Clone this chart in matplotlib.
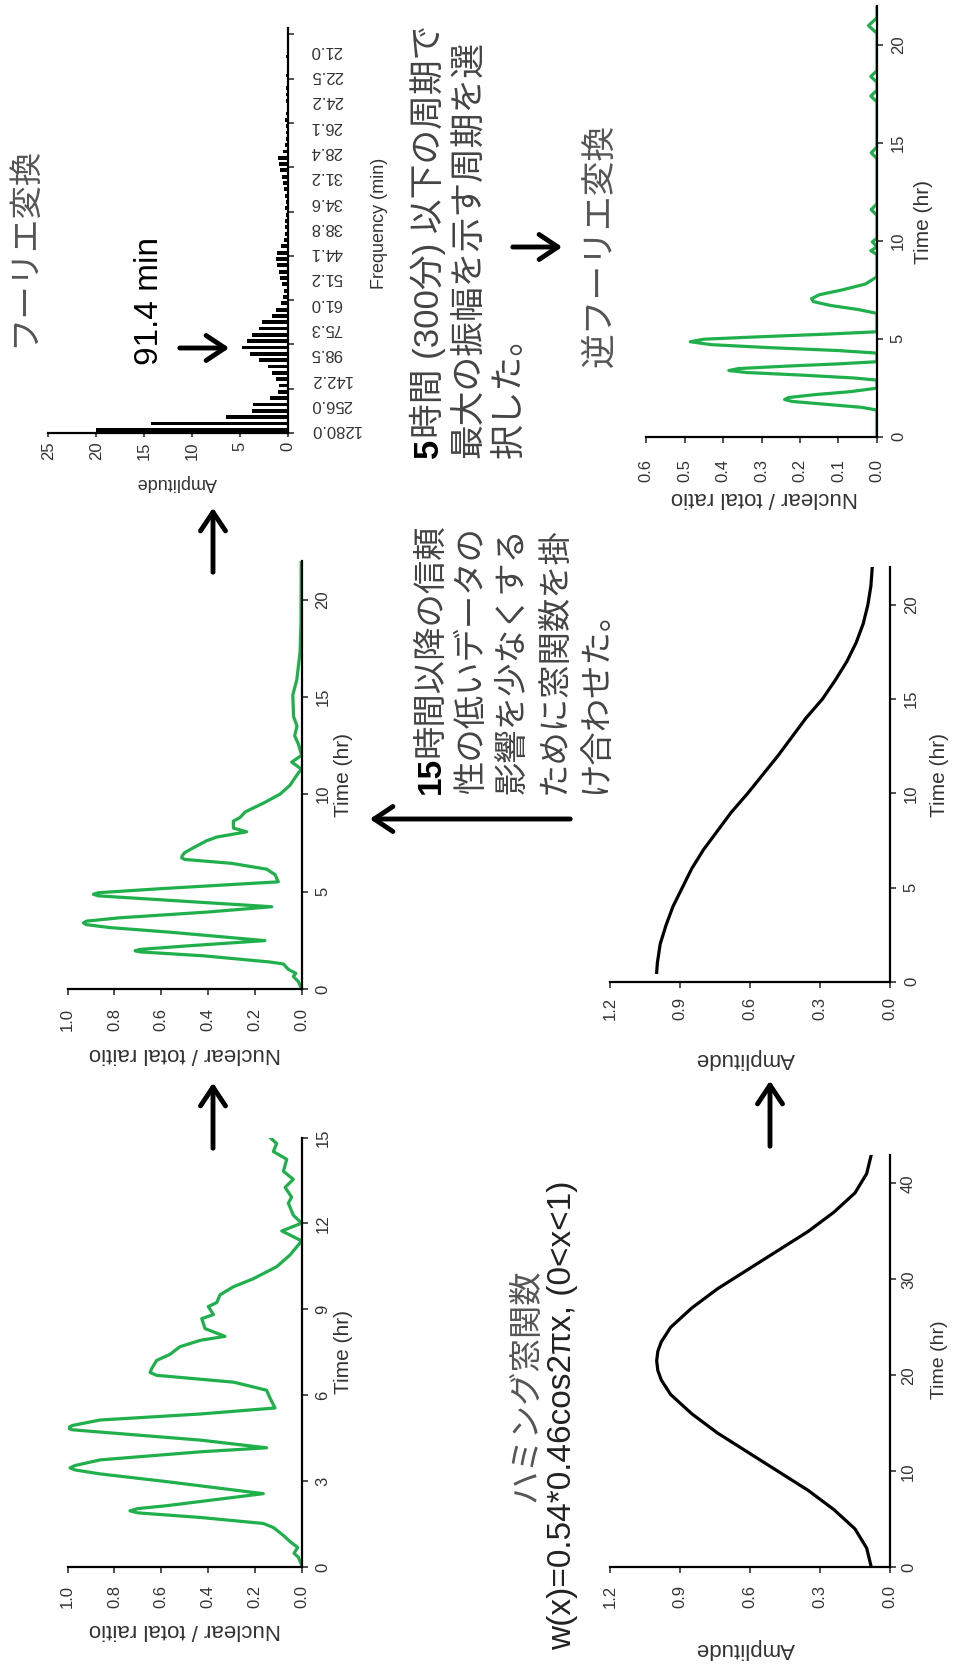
import numpy as np
import matplotlib
matplotlib.use('Agg')
import matplotlib.pyplot as plt
from matplotlib.patches import FancyArrowPatch

W, H = 954, 1664
plt.rcParams['font.family'] = ['Liberation Sans', 'Noto Sans CJK JP', 'DejaVu Sans']
plt.rcParams['text.color'] = '#333333'
plt.rcParams['xtick.color'] = '#333333'
plt.rcParams['ytick.color'] = '#333333'
GREEN = '#1fb04c'

# raw nuclear / total ratio, 0-15 hr
raw_t = [0.07, 0.35, 0.49, 0.69, 0.9, 1.11, 1.39, 1.53, 1.74, 1.9, 1.97, 2.05, 2.15, 2.57, 2.99, 3.26, 3.4, 3.47,
         3.55, 3.75, 4.03, 4.17, 4.44, 4.72, 4.8, 4.86, 4.95, 5.14, 5.35, 5.56, 5.9, 6.18, 6.46, 6.7, 6.8, 6.95,
         7.22, 7.43, 7.7, 7.92, 8.06, 8.33, 8.68, 8.82, 9.1, 9.24, 9.51, 9.79, 10.07, 10.49, 10.9, 11.39,
         11.74, 12.01, 12.29, 12.71, 12.92, 13.26, 13.54, 13.82, 14.24, 14.51, 14.79, 15.0]
raw_v = [0.0, 0.014, 0.033, 0.017, 0.05, 0.078, 0.121, 0.164, 0.434, 0.70, 0.734, 0.70, 0.577, 0.164, 0.577, 0.862,
         0.97, 0.99, 0.97, 0.86, 0.434, 0.15, 0.434, 0.862, 0.98, 1.0, 0.98, 0.862, 0.434, 0.114, 0.135, 0.15, 0.29,
         0.62, 0.648, 0.64, 0.62, 0.563, 0.52, 0.434, 0.328, 0.413, 0.427, 0.377, 0.399, 0.363, 0.349, 0.292,
         0.207, 0.107, 0.05, 0.0, 0.085, 0.0, 0.036, 0.057, 0.043, 0.071, 0.036, 0.078, 0.064, 0.121, 0.107, 0.135]

# windowed ratio, 0-22 hr
win_t = [0, 0.37, 0.64, 0.8, 1.0, 1.28, 1.38, 1.7, 1.9, 1.96, 2.03, 2.2, 2.48, 2.9, 3.15, 3.3, 3.39, 3.48, 3.65,
         3.95, 4.22, 4.5, 4.78, 4.86, 4.94, 5.15, 5.5, 5.87, 6.15, 6.45, 6.65, 6.73, 6.85, 7.0, 7.25, 7.61, 7.8,
         8.07, 8.26, 8.62, 8.8, 9.08, 9.17, 9.54, 10.0, 10.46, 11.1, 11.28, 11.65, 12.0, 12.57, 13.0, 13.5,
         14.0, 14.4, 15.1, 15.87, 17.3, 18.8, 22.0]
win_v = [0, 0.014, 0.036, 0.025, 0.057, 0.078, 0.135, 0.42, 0.69, 0.712, 0.69, 0.5, 0.157, 0.55, 0.82, 0.92,
         0.933, 0.92, 0.78, 0.4, 0.128, 0.5, 0.87, 0.89, 0.87, 0.6, 0.10, 0.114, 0.15, 0.3, 0.5, 0.513, 0.51,
         0.5, 0.463, 0.406, 0.363, 0.235, 0.292, 0.292, 0.264, 0.242, 0.228, 0.164, 0.093, 0.05, 0.014, 0.0,
         0.043, 0.0, 0.014, 0.03, 0.02, 0.035, 0.036, 0.038, 0.021, 0.007, 0.003, 0.002]

# hamming window, full 0-43 hr
ham_t = [0, 2, 4, 6, 8, 10, 12, 14, 16, 18, 19.5, 20.5, 21.5, 22.5, 23.5, 25, 27, 29, 31, 33, 35, 37, 39, 41, 43]
ham_v = [0.08, 0.10, 0.15, 0.24, 0.35, 0.48, 0.61, 0.74, 0.85, 0.94, 0.98, 0.995, 1.0, 0.995, 0.98, 0.94,
         0.85, 0.74, 0.61, 0.48, 0.35, 0.24, 0.15, 0.10, 0.08]

# hamming window, second half 0-22 hr
half_t = [0.5, 1, 2, 3, 4, 5, 6, 7, 8, 9, 10, 11, 12, 13, 14, 15, 16, 17, 18, 19, 20, 21, 22]
half_v = [1.0, 0.997, 0.985, 0.96, 0.93, 0.89, 0.85, 0.80, 0.74, 0.68, 0.61, 0.545, 0.48, 0.42, 0.36, 0.29,
          0.235, 0.185, 0.145, 0.115, 0.095, 0.082, 0.076]

# fourier amplitudes, period = 1280/(j+1) min
period_labels = ['1280.0', '256.0', '142.2', '98.5', '75.3', '61.0', '51.2', '44.1',
                 '38.8', '34.6', '31.2', '28.4', '26.1', '24.2', '22.5', '21.0']
fft_amp = [20.0, 14.3, 6.5, 3.8, 3.6, 1.9, 1.0, 0.9, 1.2, 1.7, 2.1, 3.0, 4.0, 4.8, 4.3, 3.8,
           3.0, 2.7, 1.7, 1.2, 0.7, 0.5, 0.4, 0.6, 0.8, 0.9, 1.1, 1.3, 1.1, 0.7, 0.4, 0.3,
           0.35, 0.3, 0.2, 0.3, 0.25, 0.3, 0.4, 0.5, 0.6, 0.8, 0.9, 1.0, 0.5, 0.3, 0.2, 0.25,
           0.2, 0.3, 0.2, 0.15, 0.2, 0.25, 0.2, 0.15, 0.2, 0.15, 0.1, 0.2, 0.15, 0.1, 0.15, 0.1]

# inverse fourier transform, 0-22 hr
inv_t = [0, 1.36, 1.5, 1.65, 1.8, 1.9, 2.0, 2.15, 2.3, 2.48, 2.89, 3.0, 3.15, 3.28, 3.38, 3.48, 3.6, 3.72, 3.83,
         4.27, 4.4, 4.55, 4.7, 4.85, 4.98, 5.1, 5.24, 5.36, 6.3, 6.5, 6.7, 6.9, 7.05, 7.25, 7.5, 7.8, 8.17,
         9.3, 9.5, 9.7, 9.95, 10.15, 11.3, 11.6, 11.9, 14.2, 14.5, 14.8, 17.1, 17.4, 17.7, 18.1, 18.4, 18.7,
         20.6, 21.0, 21.4, 22.0]
inv_v = [0, 0, 0.04, 0.13, 0.22, 0.24, 0.23, 0.16, 0.07, 0, 0, 0.06, 0.2, 0.34, 0.385, 0.36, 0.24, 0.1, 0,
         0, 0.1, 0.28, 0.43, 0.485, 0.45, 0.31, 0.13, 0, 0, 0.05, 0.12, 0.165, 0.17, 0.15, 0.09, 0.03, 0,
         0, 0.016, 0, 0.012, 0, 0, 0.015, 0, 0, 0.015, 0, 0, 0.016, 0, 0, 0.016, 0,
         0, 0.022, 0, 0]

fig = plt.figure(figsize=(W / 100, H / 100), dpi=100)


def px(x, y):
    return x / W, 1 - y / H


def make_axes(left, top, right, bottom):
    ax = fig.add_axes([left / W, 1 - bottom / H, (right - left) / W, (bottom - top) / H])
    ax.patch.set_alpha(0)
    ax.spines['top'].set_visible(False)
    ax.spines['left'].set_visible(False)
    ax.spines['bottom'].set_linewidth(1.6)
    ax.spines['right'].set_linewidth(1.6)
    ax.yaxis.tick_right()
    return ax


def style(ax, vmax, tmax, vticks, vfmt, tticks, xpad, ypad):
    ax.set_xlim(vmax, 0)
    ax.set_ylim(0, tmax)
    ax.set_xticks(vticks)
    ax.set_xticklabels([vfmt % v for v in vticks], rotation=90)
    ax.set_yticks(tticks)
    ax.set_yticklabels([str(t) for t in tticks], rotation=90, verticalalignment='center')
    ax.tick_params(axis='x', length=4, width=1.2, pad=xpad, labelsize=12)
    ax.tick_params(axis='y', length=4, width=1.2, pad=ypad, labelsize=12)


def text(x, y, s, rot, size, ha='center', va='center', **kw):
    fig.text(*px(x, y), s, rotation=rot, fontsize=size, ha=ha, va=va, **kw)


def arrow(x0, y0, x1, y1):
    fig.add_artist(FancyArrowPatch(px(x0, y0), px(x1, y1), transform=fig.transFigure,
                                   arrowstyle='->,head_length=0.45,head_width=0.3',
                                   mutation_scale=30, lw=3.5, color='black'))


# panel A: raw data
ax = make_axes(67.7, 1137.5, 301.7, 1567.3)
ax.plot(raw_v, raw_t, color=GREEN, lw=2.3)
style(ax, 1.0, 15, [0, 0.2, 0.4, 0.6, 0.8, 1.0], '%.1f', [0, 3, 6, 9, 12, 15], 9, 6)
text(344, 1352, 'Time (hr)', 90, 15)
text(185, 1630, 'Nuclear / total raitio', 180, 16)

# panel B: windowed data
ax = make_axes(67.7, 560.6, 301.7, 988.9)
ax.plot(win_v, win_t, color=GREEN, lw=2.3)
style(ax, 1.0, 22, [0, 0.2, 0.4, 0.6, 0.8, 1.0], '%.1f', [0, 5, 10, 15, 20], 10, 6)
text(344, 775, 'Time (hr)', 90, 15)
text(185, 1053, 'Nuclear / total raitio', 180, 16)

# panel FFT
ax = make_axes(48.3, 28, 288, 433)
ax.barh(range(len(fft_amp)), fft_amp, height=0.6, color='black')
ax.set_xlim(25, 0)
ax.set_ylim(-0.5, 63.5)
ax.set_xticks([0, 5, 10, 15, 20, 25])
ax.set_xticklabels(['0', '5', '10', '15', '20', '25'], rotation=90)
ax.set_yticks(range(0, 64, 4))
ax.set_yticklabels(period_labels, rotation=180, verticalalignment='center')
ax.set_yticks(np.arange(-0.5, 64, 7), minor=True)
ax.tick_params(axis='x', length=3, width=1.2, pad=3, labelsize=12)
ax.tick_params(axis='y', which='major', length=0, pad=16, labelsize=12)
ax.tick_params(axis='y', which='minor', length=4, width=1.2)
text(380, 223, 'Frequency (min)', 90, 13)
text(177, 483, 'Amplitude', 180, 13)
text(150, 301, '91.4 min', 90, 24, color='black')
text(25, 247, 'フーリエ変換', 90, 24, color='#555555')

# panel E: inverse fourier transform
ax = make_axes(646, 6, 877, 436.7)
ax.plot(inv_v, inv_t, color=GREEN, lw=2.3)
style(ax, 0.6, 22, [0, 0.1, 0.2, 0.3, 0.4, 0.5, 0.6], '%.1f', [0, 5, 10, 15, 20], 12, 6)
text(924, 222, 'Time (hr)', 90, 15)
text(764, 498, 'Nuclear / total ratio', 180, 16)

# panel D: half hamming window
ax = make_axes(610, 567.3, 890, 981.8)
ax.plot(half_v, half_t, color='black', lw=2.3)
style(ax, 1.2, 22, [0, 0.3, 0.6, 0.9, 1.2], '%.1f', [0, 5, 10, 15, 20], 7, 6)
text(940, 775, 'Time (hr)', 90, 15)
text(745, 1058, 'Amplitude', 180, 16)

# panel C: full hamming window
ax = make_axes(610, 1154.5, 890, 1567.3)
ax.plot(ham_v, ham_t, color='black', lw=2.3)
style(ax, 1.2, 43, [0, 0.3, 0.6, 0.9, 1.2], '%.1f', [0, 10, 20, 30, 40], 9, 4)
text(940, 1360, 'Time (hr)', 90, 14)
text(745, 1648, 'Amplitude', 180, 16)

# japanese notes (leading numbers in bold)
block1 = ['時間以降の信頼', '性の低いデータの', '影響を少なくする', 'ために窓関数を掛', 'け合わせた。']
starts1 = [757, 794, 794, 794, 794]
for xline, ystart, line in zip([431, 472, 513, 555, 597], starts1, block1):
    text(xline, ystart, line, 90, 24, va='bottom', color='#444444')
text(431, 794, '15', 90, 24, va='bottom', color='black', fontweight='bold')
block2 = ['時間 (300分) 以下の周期で', '最大の振幅を示す周期を選', '択した。']
starts2 = [438, 458, 458]
for xline, ystart, line in zip([428, 469, 510], starts2, block2):
    text(xline, ystart, line, 90, 25, va='bottom', color='#444444')
text(428, 458, '5', 90, 25, va='bottom', color='black', fontweight='bold')
text(600, 367, '逆フーリエ変換', 90, 25, va='bottom', color='#555555')
text(527, 1502, 'ハミング窓関数', 90, 24, va='bottom', color='#555555')
text(563, 1650, 'w(x)=0.54*0.46cos2πx, (0<x<1)', 90, 24, va='bottom', color='#222222')

# arrows
arrow(213, 1151, 213, 1080)
arrow(213, 575, 213, 505)
arrow(177, 348, 232, 348)
arrow(573, 819, 367, 819)
arrow(770, 1149, 770, 1078)
arrow(510, 247, 565, 247)

fig.savefig('out.png', dpi=100)
